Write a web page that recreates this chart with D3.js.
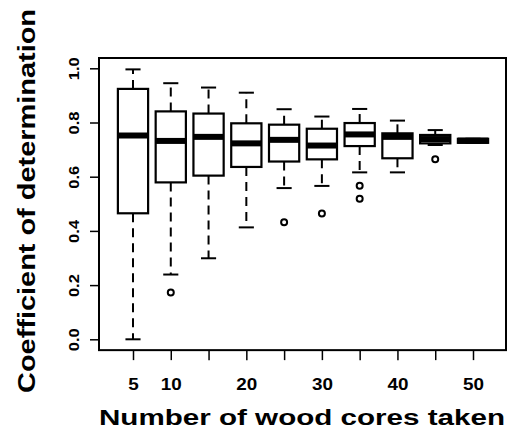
<!DOCTYPE html>
<html>
<head>
<meta charset="utf-8">
<script src="https://cdn.jsdelivr.net/npm/d3@7"></script>
<style>
  body { margin: 0; background: #fff; }
  text { font-family: Arial, "Liberation Sans", sans-serif; font-weight: bold; fill: #000; }
</style>
</head>
<body>
<svg id="chart" width="510" height="435"></svg>
<script>
// number of cores per group
var cores = [5, 10, 15, 20, 25, 30, 35, 40, 45, 50];
var shownLabels = [5, 10, 20, 30, 40, 50];
// five-number summaries
var whiskLo = [0.00, 0.239, 0.299, 0.413, 0.558, 0.566, 0.616, 0.616, 0.717, 0.725];
var q1      = [0.465, 0.579, 0.604, 0.636, 0.656, 0.664, 0.713, 0.668, 0.723, 0.725];
var median  = [0.752, 0.732, 0.747, 0.723, 0.736, 0.715, 0.756, 0.747, 0.739, 0.733];
var q3      = [0.924, 0.841, 0.833, 0.797, 0.792, 0.777, 0.798, 0.760, 0.754, 0.740];
var whiskHi = [0.996, 0.945, 0.929, 0.910, 0.849, 0.822, 0.850, 0.807, 0.772, 0.740];
var outliers = [[], [0.173], [], [], [0.432], [0.464], [0.567, 0.519], [], [0.664], []];
var yTicks = [0, 0.2, 0.4, 0.6, 0.8, 1.0];

var data = cores.map(function(c, i) {
  return {id: c, pos: i + 1, lo: whiskLo[i], q1: q1[i], med: median[i],
          q3: q3[i], hi: whiskHi[i], out: outliers[i]};
});

var svg = d3.select("#chart");
var x = d3.scaleLinear().domain([0.1, 10.9]).range([99, 507]);
var y = d3.scaleLinear().domain([0, 1]).range([339.3, 68.3]);
var bw = (x(1) - x(0)) * 0.8;

// frame
svg.append("rect")
  .attr("x", x(0.1)).attr("y", y(1.038))
  .attr("width", x(10.9) - x(0.1) - 1).attr("height", y(-0.04) - y(1.038))
  .attr("fill", "none").attr("stroke", "#000").attr("stroke-width", 2);

// y axis
var yAxis = svg.append("g").attr("transform", "translate(" + x(0.1) + ",0)")
  .call(d3.axisLeft(y).tickValues(yTicks).tickSize(9).tickFormat(d3.format(".1f")));
yAxis.select(".domain").remove();
yAxis.selectAll("line").attr("stroke-width", 1.5);
yAxis.selectAll("text")
  .attr("transform", "translate(-20,0) rotate(-90)")
  .attr("x", 0).attr("y", 0).attr("dy", 0)
  .attr("text-anchor", "middle")
  .attr("textLength", 23).attr("lengthAdjust", "spacingAndGlyphs")
  .style("font-size", "15px");

// x axis
var xAxis = svg.append("g").attr("transform", "translate(0," + y(-0.04) + ")")
  .call(d3.axisBottom(x).tickValues(d3.range(1, 11)).tickSize(10)
    .tickFormat(function(d) { var c = cores[d - 1]; return shownLabels.indexOf(c) >= 0 ? c : ""; }));
xAxis.select(".domain").remove();
xAxis.selectAll("line").attr("stroke-width", 1.5);
xAxis.selectAll("text").attr("y", 39.5).attr("dy", 0)
  .filter(function() { return this.textContent !== ""; })
  .attr("textLength", function() { return this.textContent.length * 10.5; })
  .attr("lengthAdjust", "spacingAndGlyphs")
  .style("font-size", "17px");

// boxes
var g = svg.selectAll("g.box").data(data, function(d) { return d.id; })
  .enter().append("g").attr("class", "box");

g.append("line").attr("class", "whisk")
  .attr("x1", function(d) { return x(d.pos); }).attr("x2", function(d) { return x(d.pos); })
  .attr("y1", function(d) { return y(d.q3); }).attr("y2", function(d) { return y(d.hi); })
  .attr("stroke", "#000").attr("stroke-width", 2).attr("stroke-dasharray", "9,6");
g.append("line").attr("class", "whisk")
  .attr("x1", function(d) { return x(d.pos); }).attr("x2", function(d) { return x(d.pos); })
  .attr("y1", function(d) { return y(d.q1); }).attr("y2", function(d) { return y(d.lo); })
  .attr("stroke", "#000").attr("stroke-width", 2).attr("stroke-dasharray", "9,6");

["hi", "lo"].forEach(function(k) {
  g.append("line")
    .attr("x1", function(d) { return x(d.pos) - bw / 4; })
    .attr("x2", function(d) { return x(d.pos) + bw / 4; })
    .attr("y1", function(d) { return y(d[k]); }).attr("y2", function(d) { return y(d[k]); })
    .attr("stroke", "#000").attr("stroke-width", 2);
});

g.append("rect")
  .attr("x", function(d) { return x(d.pos) - bw / 2; })
  .attr("width", bw)
  .attr("y", function(d) { return y(d.q3); })
  .attr("height", function(d) { return y(d.q1) - y(d.q3); })
  .attr("fill", "#fff").attr("stroke", "#000").attr("stroke-width", 2.2);

g.append("line")
  .attr("x1", function(d) { return x(d.pos) - bw / 2; })
  .attr("x2", function(d) { return x(d.pos) + bw / 2; })
  .attr("y1", function(d) { return y(d.med); }).attr("y2", function(d) { return y(d.med); })
  .attr("stroke", "#000").attr("stroke-width", 6);

g.selectAll("circle").data(function(d) { return d.out.map(function(v) { return {pos: d.pos, v: v}; }); })
  .enter().append("circle")
  .attr("cx", function(d) { return x(d.pos); })
  .attr("cy", function(d) { return y(d.v); })
  .attr("r", 3).attr("fill", "none").attr("stroke", "#000").attr("stroke-width", 2);

// titles
svg.append("text")
  .attr("transform", "translate(35,201) rotate(-90)")
  .attr("text-anchor", "middle")
  .attr("textLength", 384).attr("lengthAdjust", "spacingAndGlyphs")
  .style("font-size", "23px")
  .text("Coefficient of determination");

svg.append("text")
  .attr("x", 302).attr("y", 425)
  .attr("text-anchor", "middle")
  .attr("textLength", 406).attr("lengthAdjust", "spacingAndGlyphs")
  .style("font-size", "22px")
  .text("Number of wood cores taken");
</script>
</body>
</html>
